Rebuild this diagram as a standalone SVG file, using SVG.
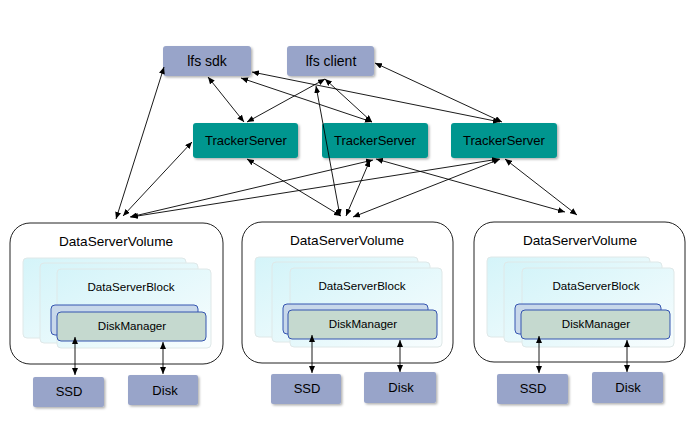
<svg xmlns="http://www.w3.org/2000/svg" width="690" height="437" viewBox="0 0 690 437">
<style>
text{font-family:"Liberation Sans",Arial,sans-serif;fill:#000;text-anchor:middle}
.lfs{fill:#98a4c9;filter:url(#sh)}
.ts{fill:#00968f;filter:url(#sh)}
.vol{fill:#fff;stroke:#222;stroke-width:1}
.page{fill:url(#pg);stroke:#dfe8e8;stroke-width:1}
.dmb{fill:#c8d8ea;stroke:#3555b0;stroke-width:1}
.dmf{fill:#c5d9cf;stroke:#3555b0;stroke-width:1}
.t14{font-size:14px}
.t13{font-size:13px}
.tv{font-size:13.6px}
.tb{font-size:11.6px}
#connectors line{stroke:#000;stroke-width:0.9;marker-start:url(#ah);marker-end:url(#ah)}
</style>
<defs>
<marker id="ah" markerUnits="userSpaceOnUse" markerWidth="8" markerHeight="6" refX="7" refY="3" orient="auto-start-reverse">
<path d="M0,0 L7,3 L0,6 z" fill="#000"/>
</marker>
<filter id="sh" x="-10%" y="-10%" width="130%" height="140%">
<feDropShadow dx="1.5" dy="1.5" stdDeviation="0.8" flood-color="#000" flood-opacity="0.3"/>
</filter>
<linearGradient id="pg" x1="0" y1="0" x2="1" y2="1">
<stop offset="0" stop-color="#d4f4f9"/>
<stop offset="1" stop-color="#f8fdfe"/>
</linearGradient>
</defs>
<rect width="690" height="437" fill="#fff"/>

<g id="lfs-sdk"><rect class="lfs" x="163" y="46" width="88" height="30" rx="3"/><text class="t14" x="207" y="66">lfs sdk</text></g>
<g id="lfs-client"><rect class="lfs" x="287" y="46" width="87" height="30" rx="3"/><text class="t14" x="331" y="66">lfs client</text></g>

<g id="tracker1"><rect class="ts" x="193" y="123" width="105" height="35" rx="3"/><text class="t13" x="246" y="145">TrackerServer</text></g>
<g id="tracker2"><rect class="ts" x="322" y="123" width="106" height="35" rx="3"/><text class="t13" x="375" y="145">TrackerServer</text></g>
<g id="tracker3"><rect class="ts" x="451" y="123" width="106" height="35" rx="3"/><text class="t13" x="504" y="145">TrackerServer</text></g>

<g id="volume1">
<rect class="vol" x="10" y="223" width="213" height="141" rx="20"/>
<text class="tv" x="116" y="246">DataServerVolume</text>
<rect class="page" x="23" y="258" width="163" height="80" rx="4"/>
<rect class="page" x="40" y="263" width="158" height="80" rx="4"/>
<rect class="page" x="57" y="269" width="154" height="79" rx="4"/>
<text class="tb" x="131" y="291">DataServerBlock</text>
<rect class="dmb" x="51" y="305" width="147" height="30" rx="4"/>
<rect class="dmf" x="57" y="312" width="149" height="29" rx="4"/>
<text class="tb" x="132" y="330">DiskManager</text>
</g>
<g id="volume2">
<rect class="vol" x="242" y="222" width="211" height="141" rx="20"/>
<text class="tv" x="347" y="245">DataServerVolume</text>
<rect class="page" x="255" y="257" width="163" height="80" rx="4"/>
<rect class="page" x="272" y="262" width="158" height="80" rx="4"/>
<rect class="page" x="290" y="268" width="152" height="79" rx="4"/>
<text class="tb" x="362" y="290">DataServerBlock</text>
<rect class="dmb" x="283" y="304" width="145" height="30" rx="4"/>
<rect class="dmf" x="288" y="310" width="149" height="29" rx="4"/>
<text class="tb" x="363" y="328">DiskManager</text>
</g>
<g id="volume3">
<rect class="vol" x="474" y="222" width="211" height="140" rx="20"/>
<text class="tv" x="580" y="245">DataServerVolume</text>
<rect class="page" x="487" y="257" width="163" height="80" rx="4"/>
<rect class="page" x="504" y="262" width="158" height="80" rx="4"/>
<rect class="page" x="522" y="268" width="152" height="79" rx="4"/>
<text class="tb" x="596" y="290">DataServerBlock</text>
<rect class="dmb" x="515" y="304" width="146" height="30" rx="4"/>
<rect class="dmf" x="521" y="310" width="149" height="29" rx="4"/>
<text class="tb" x="596" y="328">DiskManager</text>
</g>

<g id="ssd1"><rect class="lfs" x="33" y="377" width="71" height="30" rx="2"/><text class="t13" x="69" y="396">SSD</text></g>
<g id="disk1"><rect class="lfs" x="128" y="375" width="70" height="30" rx="2"/><text class="t13" x="165" y="395">Disk</text></g>
<g id="ssd2"><rect class="lfs" x="271" y="374" width="70" height="30" rx="2"/><text class="t13" x="307" y="393">SSD</text></g>
<g id="disk2"><rect class="lfs" x="364" y="372" width="72" height="31" rx="2"/><text class="t13" x="401" y="392">Disk</text></g>
<g id="ssd3"><rect class="lfs" x="497" y="374" width="71" height="30" rx="2"/><text class="t13" x="533" y="393">SSD</text></g>
<g id="disk3"><rect class="lfs" x="592" y="372" width="71" height="31" rx="2"/><text class="t13" x="628" y="392">Disk</text></g>

<g id="connectors">
<line x1="164" y1="67" x2="116" y2="219"/>
<line x1="192" y1="142" x2="123" y2="216"/>
<line x1="373" y1="160" x2="130" y2="217"/>
<line x1="499" y1="159" x2="131" y2="217"/>
<line x1="208" y1="77" x2="244" y2="122"/>
<line x1="325" y1="79" x2="247" y2="122"/>
<line x1="241" y1="78" x2="372" y2="122"/>
<line x1="325" y1="79" x2="372" y2="122"/>
<line x1="252" y1="72" x2="500" y2="122"/>
<line x1="375" y1="63" x2="502" y2="122"/>
<line x1="316" y1="86" x2="340" y2="216"/>
<line x1="247" y1="159" x2="341" y2="216"/>
<line x1="370" y1="160" x2="346" y2="216"/>
<line x1="500" y1="159" x2="353" y2="217"/>
<line x1="376" y1="159" x2="565" y2="212"/>
<line x1="505" y1="159" x2="577" y2="215"/>
<line x1="75" y1="337" x2="75" y2="375"/>
<line x1="163" y1="342" x2="163" y2="374"/>
<line x1="312" y1="335" x2="312" y2="373"/>
<line x1="400" y1="340" x2="400" y2="372"/>
<line x1="539" y1="336" x2="539" y2="373"/>
<line x1="627" y1="340" x2="627" y2="372"/>
</g>
</svg>
